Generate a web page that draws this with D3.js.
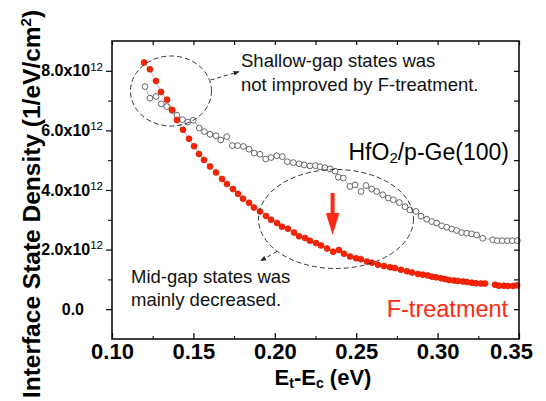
<!DOCTYPE html>
<html>
<head>
<meta charset="utf-8">
<script src="https://cdn.jsdelivr.net/npm/d3@7"></script>
<style>
    body { margin: 0; background: #fff; }
    text { font-family: "Liberation Sans", Arial, sans-serif; }
</style>
</head>
<body>
<div id="area1"></div>
<script>

// data (x in eV, y in 1e12 /eV/cm2)

var ref_x = [0.1203, 0.1233, 0.1270, 0.1303, 0.1336, 0.1369, 0.1399, 0.1433, 0.1465, 0.1499,
    0.1536, 0.1568, 0.1602, 0.1639, 0.1668, 0.1705, 0.1739, 0.1772, 0.1807, 0.1842,
    0.1874, 0.1909, 0.1944, 0.1977, 0.2012, 0.2046, 0.2077, 0.2114, 0.2149, 0.2181,
    0.2216, 0.2249, 0.2278, 0.2308, 0.2339, 0.2370, 0.2390, 0.2421, 0.2462, 0.2493,
    0.2530, 0.2560, 0.2595, 0.2626, 0.2663, 0.2697, 0.2728, 0.2765, 0.2800, 0.2830,
    0.2867, 0.2898, 0.2933, 0.2964, 0.2994, 0.3025, 0.3056, 0.3087, 0.3117, 0.3148,
    0.3179, 0.3209, 0.3240, 0.3277, 0.3338, 0.3367, 0.3397, 0.3428, 0.3459, 0.3490];
var ref_y = [7.47, 7.08, 7.14, 6.89, 6.80, 6.67, 6.51, 6.36, 6.28, 6.34,
    6.08, 5.96, 5.87, 5.82, 5.68, 5.79, 5.49, 5.49, 5.46, 5.37,
    5.24, 5.20, 5.04, 5.09, 5.15, 5.12, 4.95, 4.92, 4.88, 4.84,
    4.81, 4.82, 4.78, 4.75, 4.71, 4.63, 4.43, 4.40, 4.12, 4.17,
    3.95, 4.15, 4.03, 3.95, 3.84, 3.73, 3.67, 3.58, 3.44, 3.33,
    3.28, 3.12, 3.02, 2.94, 2.89, 2.80, 2.75, 2.69, 2.64, 2.57,
    2.55, 2.53, 2.49, 2.38, 2.33, 2.30, 2.30, 2.30, 2.30, 2.30];

var ft_x = [0.1197, 0.1233, 0.1270, 0.1301, 0.1338, 0.1369, 0.1399, 0.1436, 0.1473, 0.1504,
    0.1534, 0.1565, 0.1602, 0.1639, 0.1676, 0.1706, 0.1743, 0.1774, 0.1805, 0.1842,
    0.1872, 0.1909, 0.1946, 0.1977, 0.2014, 0.2044, 0.2081, 0.2118, 0.2149, 0.2186,
    0.2216, 0.2253, 0.2284, 0.2321, 0.2358, 0.2394, 0.2425, 0.2462, 0.2499, 0.2529,
    0.2566, 0.2597, 0.2634, 0.2671, 0.2708, 0.2738, 0.2775, 0.2812, 0.2843, 0.2880,
    0.2910, 0.2941, 0.2966, 0.2990, 0.3021, 0.3045, 0.3070, 0.3101, 0.3125, 0.3156,
    0.3181, 0.3211, 0.3236, 0.3267, 0.3291, 0.3353, 0.3377, 0.3408, 0.3432, 0.3463,
    0.3488];
var ft_y = [8.28, 8.05, 7.66, 7.29, 7.03, 6.69, 6.35, 6.02, 5.72, 5.47,
    5.21, 5.01, 4.79, 4.59, 4.37, 4.20, 4.03, 3.87, 3.71, 3.57,
    3.41, 3.28, 3.13, 3.00, 2.89, 2.77, 2.70, 2.57, 2.45, 2.39,
    2.30, 2.22, 2.14, 2.04, 1.93, 1.99, 1.86, 1.77, 1.71, 1.68,
    1.60, 1.56, 1.49, 1.45, 1.41, 1.38, 1.32, 1.27, 1.23, 1.18,
    1.16, 1.13, 1.09, 1.07, 1.04, 1.01, 0.98, 0.96, 0.95, 0.93,
    0.91, 0.89, 0.87, 0.86, 0.86, 0.82, 0.79, 0.79, 0.78, 0.78,
    0.80];

var x_ticks = [0.10, 0.15, 0.20, 0.25, 0.30, 0.35];
var x_minor = [0.125, 0.175, 0.225, 0.275, 0.325];
var y_ticks = [0, 2, 4, 6, 8];
var y_minor = [1, 3, 5, 7];

var margin = {
    top: 41,
    bottom: 62,
    left: 112,
    right: 27
};

var width = 546 - margin.left - margin.right;
var height = 401 - margin.top - margin.bottom;

var svg = d3.select("#area1")
    .append('svg')
    .attr('width', 546)
    .attr('height', 401)
    .append('g')
    .attr('transform', 'translate(' + margin.left + ',' + margin.top + ')');

var x_scale = d3.scaleLinear()
    .domain([0.10, 0.35])
    .range([0, width]);

var y_scale = d3.scaleLinear()
    .domain([-1, 9])
    .range([height, 0]);

// thin joining lines

var line = d3.line()
    .x(function (d) { return x_scale(d[0]); })
    .y(function (d) { return y_scale(d[1]); });

var ref_data = d3.zip(ref_x, ref_y);
var ft_data = d3.zip(ft_x, ft_y);

svg.append('path')
    .datum(ref_data)
    .attr('d', line)
    .attr('fill', 'none')
    .attr('stroke', '#999')
    .attr('stroke-width', 0.7);

svg.append('path')
    .datum(ft_data)
    .attr('d', line)
    .attr('fill', 'none')
    .attr('stroke', '#999')
    .attr('stroke-width', 0.7);

// open circles (as-deposited)

svg.selectAll('.ref')
    .data(ref_data)
    .enter()
    .append('circle')
    .attr('class', 'ref')
    .attr('cx', function (d) { return x_scale(d[0]); })
    .attr('cy', function (d) { return y_scale(d[1]); })
    .attr('r', 2.9)
    .attr('fill', '#fff')
    .attr('stroke', '#555')
    .attr('stroke-width', 0.9);

// filled red circles (F-treatment)

svg.selectAll('.ft')
    .data(ft_data)
    .enter()
    .append('circle')
    .attr('class', 'ft')
    .attr('cx', function (d) { return x_scale(d[0]); })
    .attr('cy', function (d) { return y_scale(d[1]); })
    .attr('r', 3)
    .attr('fill', '#ff2200')
    .attr('stroke', '#c81400')
    .attr('stroke-width', 0.6);

// frame

svg.append('rect')
    .attr('x', 0)
    .attr('y', 0)
    .attr('width', width)
    .attr('height', height)
    .attr('fill', 'none')
    .attr('stroke', '#000')
    .attr('stroke-width', 1.5);

// x axis (bottom, ticks inward)

var x_axis = d3.axisBottom(x_scale)
    .tickValues(x_ticks)
    .tickSize(-6)
    .tickPadding(4)
    .tickFormat(d3.format('.2f'));

var gx = svg.append('g')
    .attr('class', 'x axis')
    .attr('transform', 'translate(0,' + height + ')')
    .call(x_axis);

gx.select('.domain').remove();
gx.selectAll('.tick line').attr('stroke-width', 1.2);
gx.selectAll('.tick text')
    .attr('fill', '#000')
    .attr('x', function (d) { return d === 0.35 ? -8 : 0; })
    .style('font-size', '22px')
    .style('font-weight', 'bold');

svg.append('g')
    .attr('transform', 'translate(0,' + height + ')')
    .call(d3.axisBottom(x_scale).tickValues(x_minor).tickSize(-3).tickFormat(''))
    .call(function (g) { g.select('.domain').remove(); });

// top axis, ticks inward, no labels

svg.append('g')
    .call(d3.axisTop(x_scale).tickValues(x_ticks.concat(x_minor)).tickSize(-4).tickFormat(''))
    .call(function (g) { g.select('.domain').remove(); g.selectAll('line').attr('stroke-width', 1.2); });

// y axis (left, ticks outward)

var y_axis = d3.axisLeft(y_scale)
    .tickValues(y_ticks)
    .tickSize(6)
    .tickPadding(3);

var gy = svg.append('g')
    .attr('class', 'y axis')
    .call(y_axis);

gy.select('.domain').remove();
gy.selectAll('.tick line').attr('stroke-width', 1.2);
gy.selectAll('.tick text')
    .attr('fill', '#000')
    .style('font-size', '16px')
    .style('font-weight', 'bold')
    .each(function (d) {
        var t = d3.select(this);
        t.text(null);
        if (d === 0) {
            t.attr('x', -28).text('0.0');
        } else {
            t.append('tspan').text(d.toFixed(1) + 'x10');
            t.append('tspan')
                .attr('dy', '-0.5em')
                .style('font-size', '11.5px')
                .style('font-weight', 'normal')
                .text('12');
        }
    });

svg.append('g')
    .call(d3.axisLeft(y_scale).tickValues(y_minor).tickSize(4).tickFormat(''))
    .call(function (g) { g.select('.domain').remove(); });

// right axis, ticks inward

svg.append('g')
    .attr('transform', 'translate(' + width + ',0)')
    .call(d3.axisRight(y_scale).tickValues(y_ticks.concat(y_minor)).tickSize(-5).tickFormat(''))
    .call(function (g) { g.select('.domain').remove(); g.selectAll('line').attr('stroke-width', 1.2); });

// axis titles

var xt = svg.append('text')
    .attr('x', 211)
    .attr('y', 385 - margin.top)
    .attr('text-anchor', 'middle')
    .style('font-size', '22px')
    .style('font-weight', 'bold');
xt.append('tspan').text('E');
xt.append('tspan').attr('dy', 3).style('font-size', '14px').text('t');
xt.append('tspan').attr('dy', -3).text('-E');
xt.append('tspan').attr('dy', 3).style('font-size', '14px').text('c');
xt.append('tspan').attr('dy', -3).text(' (eV)');

var yt = svg.append('text')
    .attr('transform', 'translate(' + (40 - margin.left) + ',' + (204 - margin.top) + ') rotate(-90)')
    .attr('text-anchor', 'middle')
    .style('font-size', '24.5px')
    .style('font-weight', 'bold');
yt.append('tspan').text('Interface State Density (1/eV/cm');
yt.append('tspan').attr('dy', -9).style('font-size', '15px').text('2');
yt.append('tspan').attr('dy', 9).text(')');

// annotations

function px(x) { return x - margin.left; }
function py(y) { return y - margin.top; }

svg.append('defs').append('marker')
    .attr('id', 'head')
    .attr('viewBox', '0 0 10 10')
    .attr('refX', 9)
    .attr('refY', 5)
    .attr('markerWidth', 6)
    .attr('markerHeight', 6)
    .attr('orient', 'auto')
    .append('path')
    .attr('d', 'M0,1 L10,5 L0,9 Z')
    .attr('fill', '#222');

svg.append('ellipse')
    .attr('cx', px(171))
    .attr('cy', py(91))
    .attr('rx', 40.5)
    .attr('ry', 35)
    .attr('fill', 'none')
    .attr('stroke', '#333')
    .attr('stroke-width', 1)
    .attr('stroke-dasharray', '5,3');

svg.append('line')
    .attr('x1', px(210.5)).attr('y1', py(80))
    .attr('x2', px(239)).attr('y2', py(71.7))
    .attr('stroke', '#333')
    .attr('stroke-dasharray', '4,3')
    .attr('marker-end', 'url(#head)');

svg.append('ellipse')
    .attr('cx', px(336))
    .attr('cy', py(219))
    .attr('rx', 77.5)
    .attr('ry', 49.5)
    .attr('fill', 'none')
    .attr('stroke', '#333')
    .attr('stroke-width', 1)
    .attr('stroke-dasharray', '5,3');

svg.append('line')
    .attr('x1', px(277)).attr('y1', py(251.5))
    .attr('x2', px(260.7)).attr('y2', py(260.7))
    .attr('stroke', '#333')
    .attr('stroke-dasharray', '4,3')
    .attr('marker-end', 'url(#head)');

// red arrow

var ax = x_scale(0.2355);
svg.append('path')
    .attr('d', 'M' + (ax - 2) + ',' + py(193) + ' L' + (ax + 2) + ',' + py(193) +
        ' L' + (ax + 2) + ',' + py(213) + ' L' + (ax + 6.7) + ',' + py(213) +
        ' L' + ax + ',' + py(235) + ' L' + (ax - 6.7) + ',' + py(213) +
        ' L' + (ax - 2) + ',' + py(213) + ' Z')
    .attr('fill', '#ff2a12');

var note1 = svg.append('text')
    .attr('x', px(241))
    .attr('y', py(67))
    .style('font-size', '18.5px')
    .attr('fill', '#111');
note1.append('tspan').text('Shallow-gap states was');
note1.append('tspan').attr('x', px(241)).attr('dy', 24).text('not improved by F-treatment.');

var note2 = svg.append('text')
    .attr('x', px(131))
    .attr('y', py(283))
    .style('font-size', '18.5px')
    .attr('fill', '#111');
note2.append('tspan').text('Mid-gap states was');
note2.append('tspan').attr('x', px(131)).attr('dy', 23).text('mainly decreased.');

var lab1 = svg.append('text')
    .attr('x', px(348.5))
    .attr('y', py(160))
    .style('font-size', '23px')
    .attr('fill', '#000');
lab1.append('tspan').text('HfO');
lab1.append('tspan').attr('dy', 3).style('font-size', '15px').text('2');
lab1.append('tspan').attr('dy', -3).text('/p-Ge(100)');

svg.append('text')
    .attr('x', px(386.7))
    .attr('y', py(317))
    .style('font-size', '23.5px')
    .attr('fill', '#ff2a12')
    .text('F-treatment');

</script>
</body>
</html>
